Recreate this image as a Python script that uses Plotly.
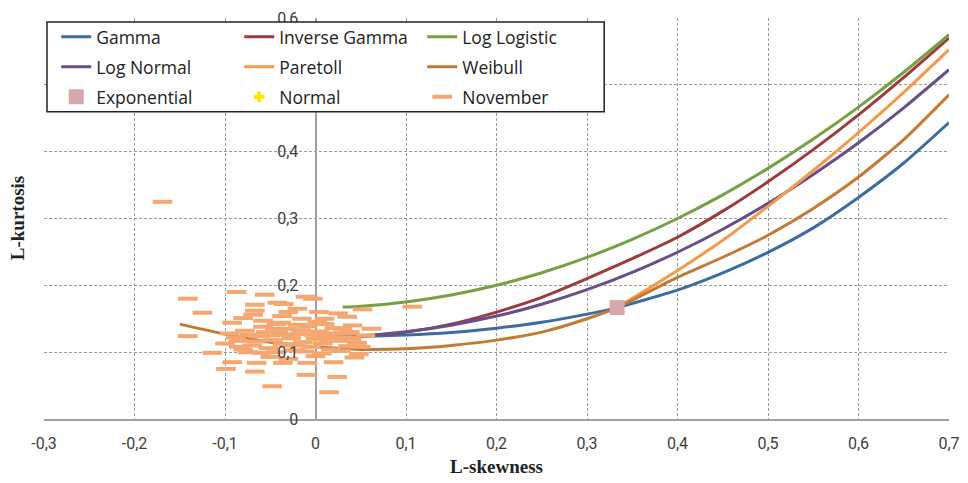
import plotly.graph_objects as go

# theoretical L-moment ratio curves
gamma_skew = [0.0, 0.05, 0.1, 0.15, 0.2, 0.25, 0.3, 0.3333, 0.4, 0.45, 0.5, 0.55, 0.6, 0.65, 0.7]
gamma_kurt = [0.1226, 0.1240, 0.1256, 0.1293, 0.1359, 0.1448, 0.1569, 0.1667, 0.1928, 0.2185, 0.2494, 0.2860, 0.3315, 0.3830, 0.4436]

invgamma_skew = [0.0, 0.05, 0.1, 0.15, 0.2, 0.25, 0.3, 0.35, 0.4, 0.45, 0.5, 0.55, 0.6, 0.65, 0.7]
invgamma_kurt = [0.122, 0.124, 0.130, 0.142, 0.160, 0.182, 0.210, 0.240, 0.272, 0.311, 0.355, 0.403, 0.455, 0.511, 0.570]

loglogistic_skew = [0.03, 0.05, 0.1, 0.15, 0.2, 0.25, 0.3, 0.35, 0.4, 0.45, 0.5, 0.55, 0.6, 0.65, 0.7]
loglogistic_kurt = [0.1674, 0.1688, 0.1750, 0.1854, 0.2000, 0.2188, 0.2417, 0.2688, 0.3000, 0.3354, 0.3750, 0.4188, 0.4667, 0.5188, 0.5750]

lognormal_skew = [0.0, 0.05, 0.1, 0.15, 0.2, 0.25, 0.3, 0.35, 0.4, 0.45, 0.5, 0.55, 0.6, 0.65, 0.7]
lognormal_kurt = [0.1228, 0.1247, 0.1306, 0.1403, 0.1540, 0.1717, 0.1935, 0.2194, 0.2495, 0.2839, 0.3226, 0.3659, 0.4133, 0.4656, 0.5226]

pareto_skew = [0.3333, 0.4, 0.45, 0.5, 0.55, 0.6, 0.65, 0.7]
pareto_kurt = [0.1667, 0.2222, 0.2674, 0.3182, 0.3718, 0.4286, 0.4887, 0.5526]

weibull_skew = [-0.15, -0.1, -0.05, 0.0, 0.05, 0.1, 0.15, 0.2, 0.25, 0.3, 0.3333, 0.4, 0.45, 0.5, 0.55, 0.6, 0.65, 0.7]
weibull_kurt = [0.142, 0.127, 0.115, 0.108, 0.104, 0.105, 0.110, 0.118, 0.130, 0.150, 0.1667, 0.212, 0.242, 0.275, 0.315, 0.362, 0.418, 0.485]

expo_skew = [0.3333]
expo_kurt = [0.1667]

normal_skew = [0.0]
normal_kurt = [0.1226]

# sample L-moment ratios for November
nov_skew = [-0.169, -0.141, -0.125, -0.141, -0.114, -0.087, -0.092, -0.099, -0.056, -0.067,
            -0.067, -0.069, -0.080, -0.092, -0.065, -0.067, -0.048, -0.036, -0.011, -0.003,
            -0.042, -0.010, -0.009, 0.015, 0.024, 0.020, 0.043, 0.048, 0.062, 0.052,
            0.107, 0.035, 0.004, -0.030, -0.037, -0.043, 0.010, 0.030, 0.025, -0.015,
            -0.035, -0.020, 0.040, 0.055, -0.030, -0.050, 0.000, -0.075, -0.085,
            -0.095, -0.085, -0.078, -0.070, -0.062, -0.058, -0.052, -0.047, -0.041, -0.036,
            -0.031, -0.027, -0.022, -0.018, -0.014, -0.009, -0.005, 0.000, 0.004, 0.008,
            0.012, 0.017, 0.021, 0.026, 0.031, 0.036, 0.041, 0.046, -0.073, -0.066,
            -0.055, -0.044, -0.038, -0.025, -0.016, -0.002, 0.007, 0.015, 0.028, 0.033,
            -0.088, -0.100, -0.080, -0.060, -0.050, -0.033, -0.012, 0.002, 0.019, 0.038,
            -0.020, -0.058, 0.010, -0.045, 0.050]
nov_kurt = [0.325, 0.180, 0.159, 0.124, 0.099, 0.190, 0.085, 0.075, 0.186, 0.171,
            0.162, 0.156, 0.151, 0.144, 0.084, 0.071, 0.049, 0.084, 0.183, 0.180,
            0.174, 0.066, 0.084, 0.040, 0.063, 0.085, 0.092, 0.097, 0.135, 0.164,
            0.168, 0.153, 0.160, 0.160, 0.154, 0.142, 0.142, 0.135, 0.158, 0.150,
            0.172, 0.165, 0.120, 0.125, 0.090, 0.093, 0.094, 0.100, 0.108,
            0.128, 0.117, 0.132, 0.110, 0.124, 0.138, 0.106, 0.118, 0.129, 0.112,
            0.135, 0.121, 0.103, 0.127, 0.115, 0.139, 0.108, 0.120, 0.131, 0.113,
            0.124, 0.104, 0.136, 0.117, 0.128, 0.109, 0.140, 0.114, 0.126, 0.116,
            0.130, 0.100, 0.144, 0.110, 0.133, 0.126, 0.098, 0.118, 0.102, 0.122,
            0.122, 0.113, 0.104, 0.099, 0.125, 0.126, 0.101, 0.145, 0.128, 0.130,
            0.141, 0.147, 0.150, 0.135, 0.108]

x_ticks = [-0.3, -0.2, -0.1, 0, 0.1, 0.2, 0.3, 0.4, 0.5, 0.6, 0.7]
x_labels = ["-0,3", "-0,2", "-0,1", "0", "0,1", "0,2", "0,3", "0,4", "0,5", "0,6", "0,7"]
y_ticks = [0, 0.1, 0.2, 0.3, 0.4, 0.5, 0.6]
y_labels = ["0", "0,1", "0,2", "0,3", "0,4", "0,5", "0,6"]

fig = go.Figure()

curves = [
    ("Gamma", gamma_skew, gamma_kurt, "#3d6d9e", "legend"),
    ("Inverse Gamma", invgamma_skew, invgamma_kurt, "#9c3a3e", "legend"),
    ("Log Logistic", loglogistic_skew, loglogistic_kurt, "#77a043", "legend"),
    ("Log Normal", lognormal_skew, lognormal_kurt, "#67508a", "legend2"),
    ("Paretoll", pareto_skew, pareto_kurt, "#f59a4c", "legend2"),
    ("Weibull", weibull_skew, weibull_kurt, "#c37a34", "legend2"),
]
for name, xs, ys, col, leg in curves:
    fig.add_trace(go.Scatter(
        x=xs, y=ys, name=name, mode="lines", legend=leg,
        line=dict(color=col, width=3, shape="spline", smoothing=0.6),
    ))

fig.add_trace(go.Scatter(
    x=normal_skew, y=normal_kurt, name="Normal", mode="markers", legend="legend3", legendrank=2,
    marker=dict(symbol="cross", size=9, color="#ffe600"),
))
fig.add_trace(go.Scatter(
    x=nov_skew, y=nov_kurt, name="November", mode="markers", legend="legend3", legendrank=3,
    marker=dict(symbol="line-ew", size=14, color="#f5a772", line=dict(color="#f5a772", width=4)),
))
fig.add_trace(go.Scatter(
    x=expo_skew, y=expo_kurt, name="Exponential", mode="markers", legend="legend3", legendrank=1,
    marker=dict(symbol="square", size=15, color="#d8a7ae"),
))

tick_font = dict(family="Liberation Sans Narrow, Roboto, sans-serif", size=16, color="#404040")
grid = dict(showgrid=True, gridcolor="#9a9a9a", gridwidth=1, griddash="3px,2px")

leg_common = dict(orientation="h", x=0.0135, xanchor="left", yanchor="middle",
                  bgcolor="rgba(0,0,0,0)", borderwidth=0, itemwidth=30,
                  entrywidth=138, entrywidthmode="pixels",
                  font=dict(family="Open Sans, sans-serif", size=17.5, color="#222"))

fig.update_layout(
    width=968, height=483,
    margin=dict(l=44, r=19, t=18, b=64, autoexpand=False),
    plot_bgcolor="white", paper_bgcolor="white",
    xaxis=dict(range=[-0.3, 0.7], tickvals=x_ticks, ticktext=x_labels, tickfont=tick_font,
               ticks="outside", ticklen=0, ticklabelstandoff=9,
               showline=True, linecolor="#a0a0a0", linewidth=1.5,
               zeroline=True, zerolinecolor="#a0a0a0", zerolinewidth=1.5,
               title=dict(text="L-skewness", standoff=8,
                          font=dict(family="Liberation Serif, serif", size=19, color="#222", weight="bold")),
               **grid),
    yaxis=dict(range=[0, 0.6], tickvals=y_ticks, ticktext=y_labels, tickfont=tick_font,
               anchor="free", position=0.3, ticks="outside", ticklen=0, ticklabelstandoff=14,
               showline=False, zeroline=False, **grid),
    showlegend=True,
    legend=dict(y=0.953, **leg_common),
    legend2=dict(y=0.878, **leg_common),
    legend3=dict(y=0.803, **leg_common),
    shapes=[dict(type="rect", xref="paper", yref="paper", x0=0.0033, x1=0.619, y0=0.766, y1=0.99,
                 fillcolor="white", line=dict(color="#222", width=1.5), layer="above")],
    annotations=[dict(text="L-kurtosis", xref="paper", yref="paper", x=-0.029, y=0.5,
                      textangle=-90, showarrow=False, xanchor="center", yanchor="middle",
                      font=dict(family="Liberation Serif, serif", size=19, color="#222", weight="bold"))],
)

# drop the browser's default page margin so the figure sits at the window's corner
fig.write_html("out.html", config={"displayModeBar": False},
               post_script="document.body.style.margin = '0px';")
